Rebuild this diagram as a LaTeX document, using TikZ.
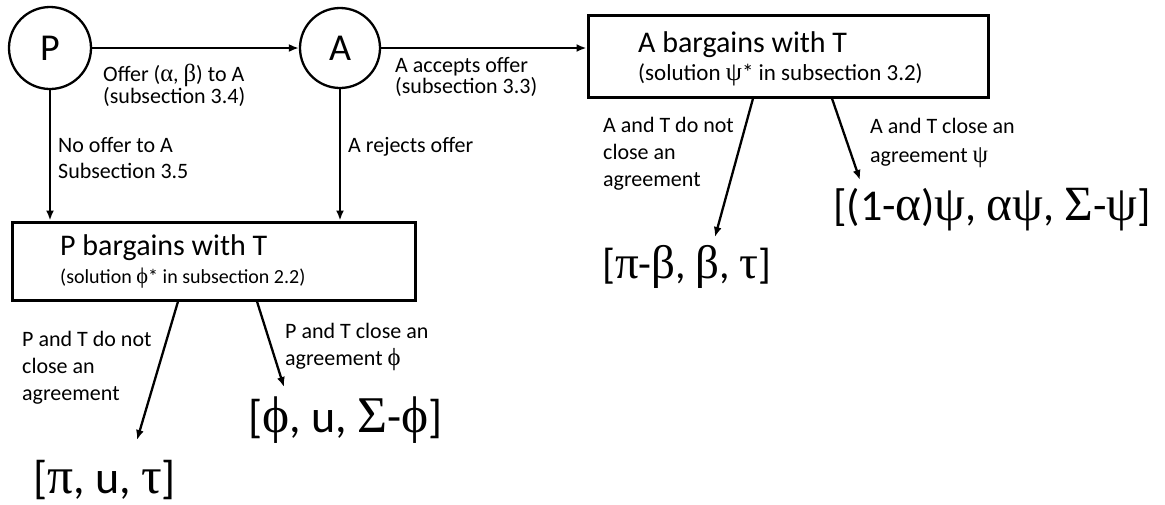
\documentclass[tikz,border=0pt]{standalone}
\usepackage{fontspec}
\setmainfont{Carlito}
\newfontfamily\symgrk[Scale=1.12]{Liberation Serif}
\newcommand{\gsym}[1]{{\symgrk #1}}
\usetikzlibrary{arrows.meta}

\begin{document}
\begin{tikzpicture}[x=1pt, y=-1pt,
	agent/.style={circle, draw, line width=2.3pt, minimum size=82pt, inner sep=0pt, font=\fontsize{38}{40}\selectfont},
	stagebox/.style={draw, line width=3pt, inner sep=0pt},
	arr/.style={line width=2.3pt, -{Latex[length=10pt, width=8pt]}},
	lbl/.style={anchor=north west, align=left, inner sep=0pt, font=\fontsize{22}{27}\selectfont},
	payoff/.style={anchor=west, inner sep=0pt, font=\fontsize{44}{48}\selectfont}]
	\useasboundingbox (0,0) rectangle (1165,504);
	\node[agent] (P) at (50,48) {P};
	\node[agent, minimum size=80pt] (A) at (340,48) {A};
	\node[stagebox, minimum width=403pt, minimum height=78pt] (Pbox) at (213.5,261) {};
	\node[stagebox, minimum width=400pt, minimum height=82pt] (Abox) at (788,56) {};
	\node[anchor=base west, inner sep=0pt, font=\fontsize{30}{34}\selectfont] (Ptitle) at (60,255) {P bargains with T};
	\node[anchor=base west, inner sep=0pt, font=\fontsize{20}{24}\selectfont] (Psol) at (60,283) {(solution \gsym{ϕ}* in subsection 2.2)};
	\node[anchor=base west, inner sep=0pt, font=\fontsize{30}{34}\selectfont] (Atitle) at (638,52) {A bargains with T};
	\node[anchor=base west, inner sep=0pt, font=\fontsize{23}{27}\selectfont] (Asol) at (638,80) {(solution \gsym{ψ}* in subsection 3.2)};

	\draw[arr] (P) -- (A);
	\draw[arr] (A) -- (A -| Abox.west);
	\draw[arr] (P) -- (P |- Pbox.north);
	\draw[arr] (A) -- (A |- Pbox.north);
	\coordinate (pL) at (137,440);
	\coordinate (pR) at (284,387);
	\coordinate (aL) at (715,237);
	\coordinate (aR) at (860,180);
	\draw[arr] ([xshift=-35.5pt]Pbox.south) -- (pL);
	\draw[arr] ([xshift=43.5pt]Pbox.south) -- (pR);
	\draw[arr] ([xshift=-35pt]Abox.south) -- (aL);
	\draw[arr] ([xshift=44pt]Abox.south) -- (aR);

	\node[lbl, font=\fontsize{22}{19}\selectfont] (offer) at (103,63.5) {Offer (\gsym{α}, \gsym{β}) to A\\(subsection 3.4)};
	\node[lbl, font=\fontsize{22}{26}\selectfont] (nooffer) at (58,137.5) {No offer to A\\Subsection 3.5};
	\node[lbl] (rejects) at (348,137.5) {A rejects offer};
	\node[lbl, font=\fontsize{22}{21}\selectfont] (accepts) at (395,57.5) {A accepts offer\\(subsection 3.3)};
	\node[lbl] (PnoDeal) at (22,331.5) {P and T do not\\close an\\agreement};
	\node[lbl] (PDeal) at (285,323.5) {P and T close an\\agreement \gsym{ϕ}};
	\node[lbl] (AnoDeal) at (603,117.5) {A and T do not\\close an\\agreement};
	\node[lbl, font=\fontsize{22}{29}\selectfont] (ADeal) at (870,118.5) {A and T close an\\agreement \gsym{ψ}};

	\node[payoff, font=\fontsize{46}{50}\selectfont] (resPL) at (33,480) {[\gsym{π}, u, \gsym{τ}]};
	\node[payoff, font=\fontsize{46}{50}\selectfont] (resPR) at (248,420) {[\gsym{ϕ}, u, \gsym{Σ}-\gsym{ϕ}]};
	\node[payoff, font=\fontsize{42}{46}\selectfont] (resAL) at (602,267) {[\gsym{π}-\gsym{β}, \gsym{β}, \gsym{τ}]};
	\node[payoff] (resAR) at (833,210) {[(1-\gsym{α})\gsym{ψ}, \gsym{α}\gsym{ψ}, \gsym{Σ}-\gsym{ψ}]};
\end{tikzpicture}
\end{document}
